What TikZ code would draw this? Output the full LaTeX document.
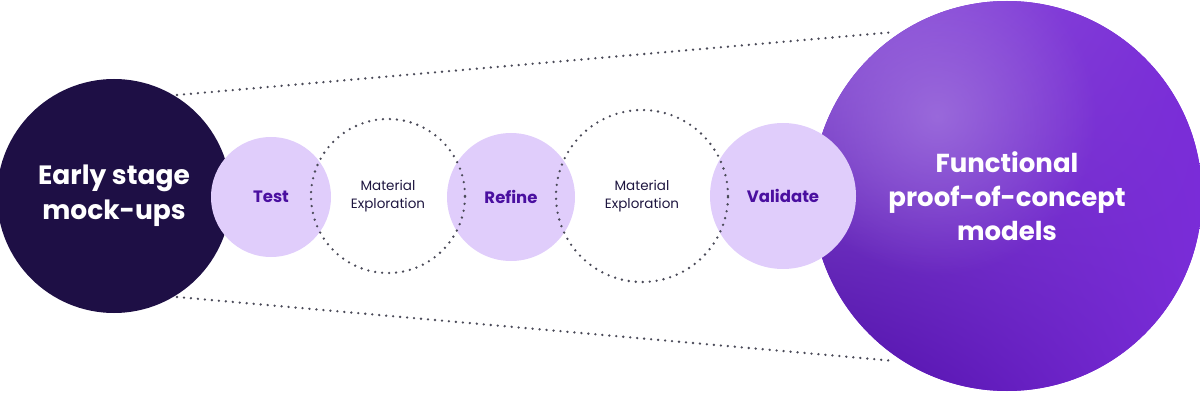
\documentclass[tikz,border=0pt]{standalone}
\usepackage{fontspec}
\setmainfont{Poppins}
\usetikzlibrary{fadings,calc,shadings}
\tikzfading[name=glowfade, inner color=transparent!0, outer color=transparent!100]
\definecolor{darkc}{HTML}{1E0F45}
\definecolor{lav}{HTML}{E0CDFB}
\definecolor{purptxt}{HTML}{4A0FA0}
\definecolor{dotc}{HTML}{4A4A58}
\definecolor{bigA}{HTML}{7A2CD8}
\definecolor{bigDark}{HTML}{4E0FA6}
\definecolor{bigUL}{HTML}{8F58D8}
\definecolor{bigLight}{HTML}{A67CE0}
\definecolor{subtxt}{HTML}{1E1640}
\begin{document}
\begin{tikzpicture}[x=1pt,y=-1pt,
  dotline/.style={draw=dotc, line width=2.6pt, dash pattern=on 0pt off 7pt, line cap=round},
  darkcirc/.style={circle, inner sep=0pt, fill=darkc, text=white, align=center,
    font=\fontsize{26.5}{35}\selectfont\bfseries},
  lavcirc/.style={circle, inner sep=0pt, fill=lav, text=purptxt,
    font=\fontsize{16.5}{20}\selectfont\bfseries},
  dotcirc/.style={circle, inner sep=0pt, dotline, text=subtxt, align=center,
    font=\fontsize{13.5}{17.5}\selectfont},
  bigcirc/.style={circle, inner sep=0pt, fill=bigA, text=white, align=center,
    font=\fontsize{26}{34}\selectfont\bfseries,
    path picture={
      \shade[upper left=bigUL, upper right=bigA, lower left=bigDark, lower right=bigA]
        (path picture bounding box.south west) rectangle (path picture bounding box.north east);
      \fill[bigLight, path fading=glowfade, fill opacity=0.7]
        ($(path picture bounding box.center)+(-70,-80)$) circle (160pt);
    }}
]
\useasboundingbox (0,0) rectangle (1200,393);

\coordinate (tl) at (177,95);
\coordinate (bl) at (177,297);
\coordinate (tr) at (895,32);
\coordinate (br) at (895,361);
\draw[dotline] (tl) -- (tr);
\draw[dotline] (bl) -- (br);

\node[darkcirc, minimum size=234pt] (early) at (114,196) {Early stage\\mock-ups};
\node[bigcirc, minimum size=390pt] (func) at (1007,196) {Functional\\proof-of-concept\\models};

\node[lavcirc, minimum size=120pt] (test) at (271,197) {Test};
\node[lavcirc, minimum size=128pt] (refine) at (511,197) {Refine};
\node[lavcirc, minimum size=146pt] (validate) at (783,196) {Validate};

\node[dotcirc, minimum size=154pt] (mat1) at (388,196) {Material\\Exploration};
\node[dotcirc, minimum size=172pt] (mat2) at (642,196) {Material\\Exploration};
\end{tikzpicture}
\end{document}
